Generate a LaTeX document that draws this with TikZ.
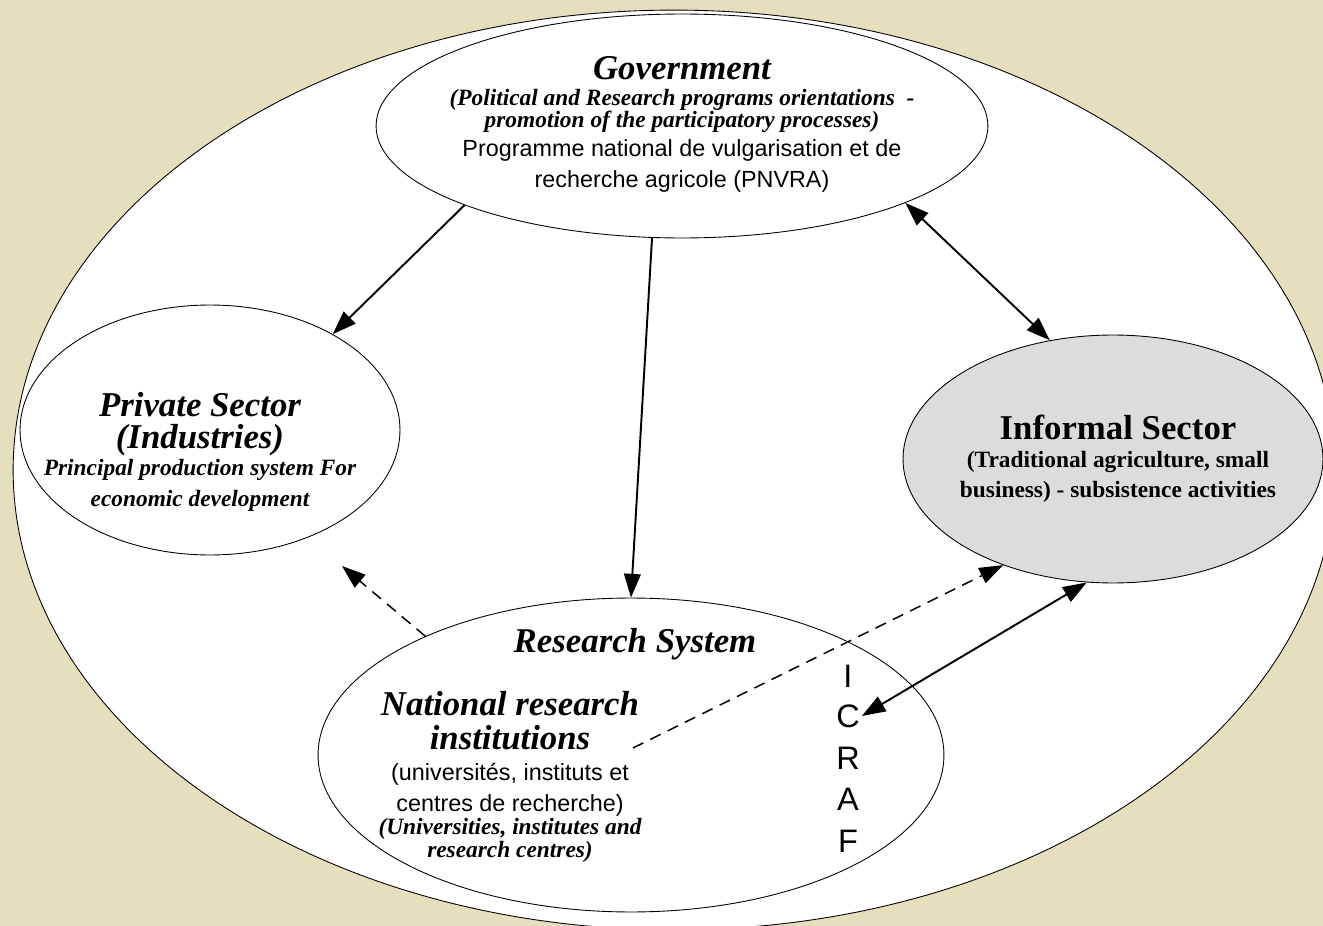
\documentclass[tikz,border=0pt]{standalone}
\usepackage{fontspec}
\setmainfont{Liberation Serif}
\newfontfamily\arialfont{Liberation Sans}
\usepackage{tikz}
\usetikzlibrary{shapes.geometric, arrows.meta, positioning}

\definecolor{parchment}{RGB}{230,223,189}
\definecolor{informalgrey}{RGB}{220,220,220}

\begin{document}
\begin{tikzpicture}[x=0.02cm, y=-0.02cm,
	>={Triangle[length=13.5pt, width=9.5pt]},
	sector/.style={ellipse, draw, line width=0.5pt, fill=white, inner sep=0pt},
	bigt/.style={font=\fontsize{19.8}{22}\selectfont\bfseries\itshape, inner sep=0pt},
	bigb/.style={font=\fontsize{19.8}{22}\selectfont\bfseries, inner sep=0pt},
	smallbi/.style={font=\fontsize{13.3}{15}\selectfont\bfseries\itshape, inner sep=0pt},
	smallb/.style={font=\fontsize{13.3}{15}\selectfont\bfseries, inner sep=0pt},
	arial/.style={font=\fontsize{13.3}{15}\selectfont\arialfont, inner sep=0pt},
	icraf/.style={font=\fontsize{18.5}{20}\selectfont\arialfont, inner sep=1pt},
	link/.style={line width=1.1pt, ->},
	dlink/.style={line width=0.85pt, dash pattern=on 6.5pt off 4.5pt, ->}]
	
	%//page and background
	\useasboundingbox (0,0) rectangle (1323,926);
	\clip (0,0) rectangle (1323,926);
	\fill[parchment] (0,0) rectangle (1323,926);
	
	%//outer system
	\node[sector, minimum width=26.44cm, minimum height=18.4cm] (system) at (674,470) {};
	
	%//the four sectors
	\node[sector, minimum width=12.24cm, minimum height=4.48cm] (gov) at (682,126) {};
	\node[sector, minimum width=7.6cm, minimum height=5cm] (priv) at (210,430) {};
	\node[sector, fill=informalgrey, minimum width=8.4cm, minimum height=4.96cm] (inf) at (1113,459) {};
	\node[sector, minimum width=12.52cm, minimum height=6.28cm] (res) at (631,755) {};
	
	%//Government
	\node[bigt] (govtitle) at (682,68) {Government};
	\node[smallbi] (govrole1) at (682,100) {(Political and Research programs orientations\ \ -};
	\node[smallbi] (govrole2) at (682,122) {promotion of the participatory processes)};
	\node[arial] (govprog1) at (682,150) {Programme national de vulgarisation et de};
	\node[arial] (govprog2) at (682,181) {recherche agricole (PNVRA)};
	
	%//Private sector
	\node[bigt] (privtitle) at (200,405) {Private Sector};
	\node[bigt] (privsub) at (200,440) {(Industries)};
	\node[smallbi] (privrole1) at (200,470) {Principal production system For};
	\node[smallbi] (privrole2) at (200,501) {economic development};
	
	%//Informal sector
	\node[bigb] (inftitle) at (1118,427) {Informal Sector};
	\node[smallb] (infrole1) at (1118,462) {(Traditional agriculture, small};
	\node[smallb] (infrole2) at (1118,492) {business) - subsistence activities};
	
	%//Research system
	\node[bigt] (restitle) at (635,644) {Research System};
	\node[bigt] (nri1) at (510,704) {National research};
	\node[bigt] (nri2) at (510,738) {institutions};
	\node[arial] (nrifr1) at (510,774) {(universités, instituts et};
	\node[arial] (nrifr2) at (510,805) {centres de recherche)};
	\node[smallbi] (nrien1) at (510,829) {(Universities, institutes and};
	\node[smallbi] (nrien2) at (510,852) {research centres)};
	
	\foreach \l/\y [count=\i] in {I/676, C/716, R/758, A/799, F/841}
	\node[icraf] (icraf\i) at (848,\y) {\l};
	
	%//links
	\coordinate (privgap) at (342,566);
	\coordinate (nrilink) at (633,748);
	
	\draw[link] (gov.200) -- (priv.38);
	\draw[link] (gov.255) -- (res.90);
	\draw[link, <->] (gov.341) -- (inf.118);
	\draw[dlink] (res.150) -- (privgap);
	\draw[dlink] (nrilink) -- (inf.224);
	\draw[link, <->] (inf.258) -- (icraf2.east);
	
\end{tikzpicture}
\end{document}
